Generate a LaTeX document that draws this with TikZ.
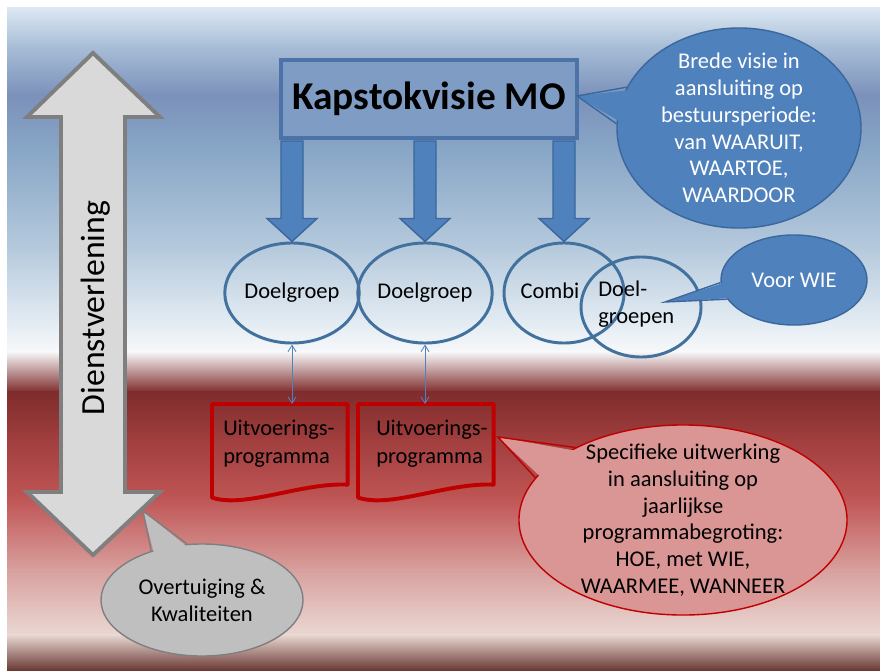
\documentclass[tikz,border=0pt]{standalone}
\usepackage{fontspec}
\setmainfont{Carlito}
\usetikzlibrary{arrows.meta,shapes.geometric,calc}
\definecolor{bgA}{HTML}{DCE8F2}
\definecolor{bgB}{HTML}{A9BFD8}
\definecolor{bgC}{HTML}{7B91BA}
\definecolor{bgD}{HTML}{88A6C6}
\definecolor{bgE}{HTML}{B6CADD}
\definecolor{bgF}{HTML}{E8EFF5}
\definecolor{bgG}{HTML}{F7F8FA}
\definecolor{bgH}{HTML}{7F2C2C}
\definecolor{bgI}{HTML}{A13E3E}
\definecolor{bgJ}{HTML}{C05656}
\definecolor{bgK}{HTML}{D8A09E}
\definecolor{bgL}{HTML}{EAD8D3}
\definecolor{bgM}{HTML}{6A3833}
\definecolor{accent}{HTML}{4F81BD}
\definecolor{accentdark}{HTML}{3A679C}
\definecolor{circline}{HTML}{41719C}
\definecolor{boxfill}{HTML}{7E9CC4}
\definecolor{boxline}{HTML}{4B73A8}
\definecolor{docred}{HTML}{C00000}
\definecolor{pink}{HTML}{D99694}
\definecolor{greyfill}{HTML}{D9D9D9}
\definecolor{greyline}{HTML}{7F7F7F}
\definecolor{bubblegrey}{HTML}{BFBFBF}

\begin{document}
\begin{tikzpicture}[x=0.025cm,y=-0.025cm,txt/.style={font=\fontsize{16}{19}\selectfont,align=center},goal/.style={ellipse,draw=circline,line width=2.1pt,minimum width=3cm,minimum height=2.5cm,inner sep=0pt,txt},bubble/.style={ellipse,line width=1pt,inner sep=0pt},blockarrow/.style={fill=accent,draw=accentdark,line width=1pt,line join=miter},doc/.style={rectangle,minimum width=3.375cm,minimum height=2cm,anchor=north west,inner sep=0pt},doctext/.style={anchor=west,inner sep=0pt,align=left,font=\fontsize{16}{20}\selectfont},docline/.style={draw=docred,line width=2.8pt,line join=round},link/.style={{Straight Barb[length=1.6mm,width=2mm]}-{Straight Barb[length=1.6mm,width=2mm]},accent,line width=0.6pt}]
 \useasboundingbox (0,0) rectangle (880,670);
 \fill[white] (0,0) rectangle (880,670);
 \foreach \ya/\yb/\ca/\cb in {8/45/bgA/bgB,45/95/bgB/bgC,95/150/bgC/bgD,150/250/bgD/bgE,250/330/bgE/bgF,330/352/bgF/bgG,352/392/bgG/bgH,392/440/bgH/bgI,440/500/bgI/bgJ,500/570/bgJ/bgK,570/635/bgK/bgL,635/670/bgL/bgM}
  \shade[top color=\ca,bottom color=\cb] (7,\ya-0.5) rectangle (880,\yb+0.5);
 \draw[fill=greyfill,draw=greyline,line width=2.8pt,line join=miter] (93,53) -- (160,117) -- (125,117) -- (125,492) -- (160,492) -- (93,555) -- (27,492) -- (61,492) -- (61,117) -- (27,117) -- cycle;
 \node[rotate=90,font=\fontsize{24}{28}\selectfont] (dienst) at (96,308) {Dienstverlening};
 \node[draw=boxline,fill=boxfill,line width=2.8pt,minimum width=7.4cm,minimum height=1.95cm,font=\fontsize{28}{32}\selectfont\bfseries] (kapstok) at (429,99) {Kapstokvisie MO};
 \node[goal] (doel1) at (292,293) {Doelgroep};
 \node[goal] (doel2) at (425,293) {Doelgroep};
 \node[goal] (combi) at (564,293) {};
 \node[goal] (groepen) at (641,307) {};
 \node[txt] (combitxt) at (550,291) {Combi};
 \node[txt,align=left,anchor=west,inner sep=0pt] (groepentxt) at (598,304) {Doel-\\groepen};
 \foreach \n in {doel1,doel2,combi}
  \draw[blockarrow] ($(kapstok.south -| \n.north)+(-11,1)$) -- ($(\n.north)+(-11,-23)$) -- ($(\n.north)+(-25,-23)$) -- (\n.north) -- ($(\n.north)+(25,-23)$) -- ($(\n.north)+(11,-23)$) -- ($(kapstok.south -| \n.north)+(11,1)$) -- cycle;
 \node[doc] (prog1) at (212,404) {};
 \node[doc] (prog2) at (358,404) {};
 \foreach \n in {prog1,prog2}
  \draw[docline] ($(\n.south west)+(0,13)$) -- (\n.north west) -- (\n.north east) -- (\n.south east) .. controls ($(\n.south east)+(-47,-2)$) and ($(\n.south west)+(33,24)$) .. ($(\n.south west)+(0,13)$) -- cycle;
 \node[doctext] (prog1txt) at (223,444) {Uitvoerings-\\programma};
 \node[doctext] (prog2txt) at (376,444) {Uitvoerings-\\programma};
 \draw[link] (doel1.south) -- (doel1.south |- prog1.north);
 \draw[link] (doel2.south) -- (doel2.south |- prog2.north);
 \node[bubble,fill=accent,draw=accentdark,minimum width=6.1cm,minimum height=5cm] (visie) at (739,128) {};
 \node[bubble,fill=accent,draw=accentdark,minimum width=3.65cm,minimum height=2.25cm] (wie) at (794,280) {};
 \node[bubble,fill=pink,draw=docred,minimum width=8.2cm,minimum height=4.75cm] (uitwerking) at (683,520) {};
 \node[bubble,fill=bubblegrey,draw=greyline,minimum width=5.05cm,minimum height=2.8cm] (overtuiging) at (202,600) {};
 \coordinate (visie-tip) at (577,96);
 \coordinate (wie-tip) at (665,302);
 \coordinate (uitwerking-tip) at (498,437);
 \coordinate (overtuiging-tip) at (143,511);
 \foreach \b/\a/\c/\f/\d in {visie/160/178/accent/accentdark,wie/182/196/accent/accentdark,uitwerking/146/164/pink/docred,overtuiging/105/136/bubblegrey/greyline} {
  \fill[\f] ($(\b.\a)!0.06!(\b.center)$) -- (\b-tip) -- ($(\b.\c)!0.06!(\b.center)$) -- cycle;
  \draw[\d,line width=1pt,line join=miter] (\b.\a) -- (\b-tip) -- (\b.\c);
 }
 \node[txt,text=white] (visietxt) at (visie) {Brede visie in\\aansluiting op\\bestuursperiode:\\van WAARUIT,\\WAARTOE,\\WAARDOOR};
 \node[txt,text=white] (wietxt) at (wie) {Voor WIE};
 \node[txt] (uitwerkingtxt) at (uitwerking) {Specifieke uitwerking\\in aansluiting op\\jaarlijkse\\programmabegroting:\\HOE, met WIE,\\WAARMEE, WANNEER};
 \node[txt] (overtuigingtxt) at (overtuiging) {Overtuiging \&\\Kwaliteiten};
\end{tikzpicture}
\end{document}
